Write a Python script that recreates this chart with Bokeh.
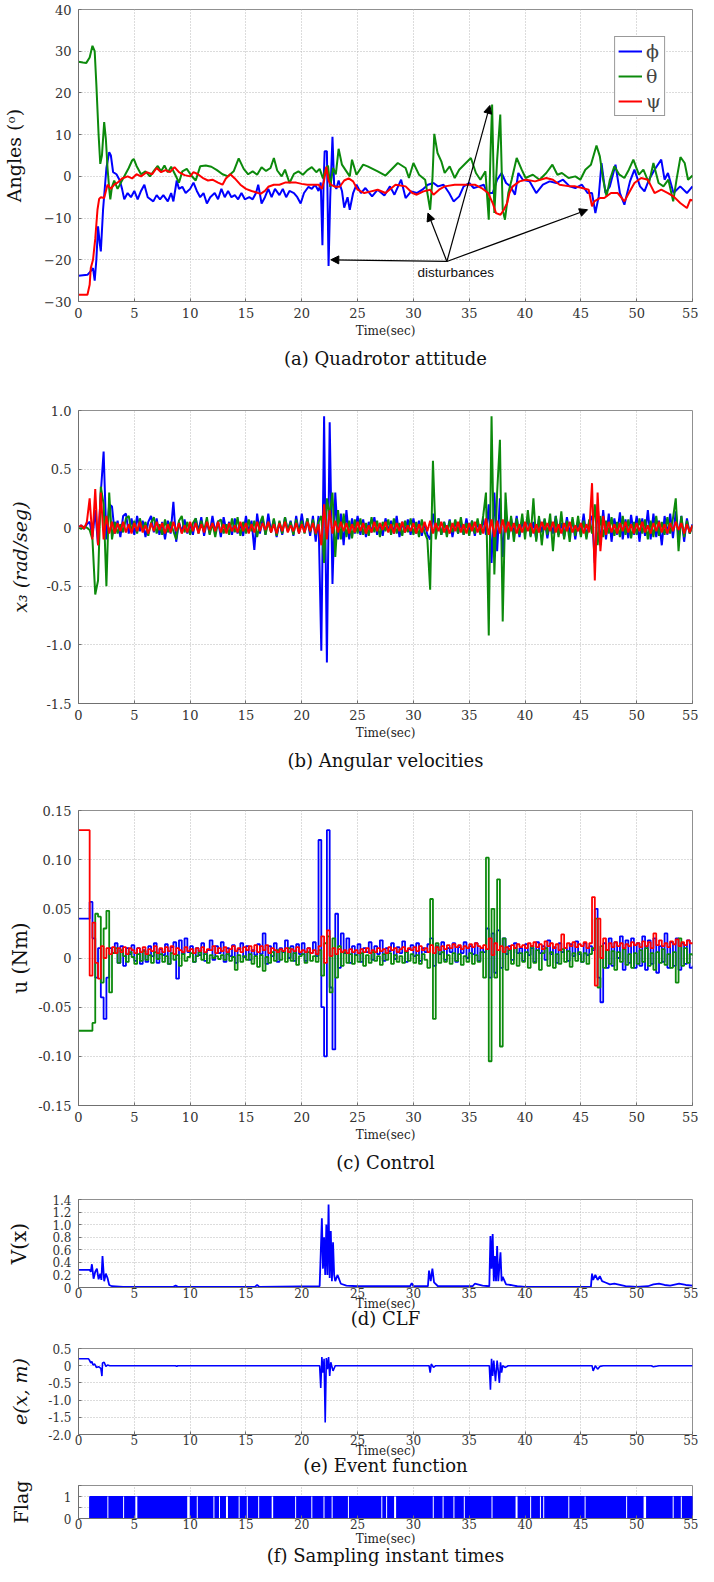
import math
from bokeh.plotting import figure
from bokeh.models import Range1d, FixedTicker, PrintfTickFormatter, Label, Arrow, NormalHead, Title
from bokeh.layouts import column
from bokeh.embed import file_html
from bokeh.resources import INLINE

SERIF = "DejaVu Serif"
BLUE = "#0000ff"
GREEN = "#0c8a0c"
RED = "#ff0000"

x_ticks = [0, 5, 10, 15, 20, 25, 30, 35, 40, 45, 50, 55]
x_limits = (0, 55)

# ---------------- (a) attitude, degrees: (time, value) readings
att_phi = [(0, -23.8), (0.8, -23.6), (1.0, -23), (1.3, -22), (1.45, -25), (1.6, -20), (1.75, -12), (1.9, -16),
           (2.0, -18), (2.2, -8), (2.5, 2), (2.75, 5.8), (2.9, 5), (3.1, 1), (3.4, 0.5), (3.7, -1), (3.9, -3),
           (4.1, -5.5), (4.4, -4), (4.7, -5), (5.0, -3.5), (5.3, -5.5), (5.6, -3.5), (5.9, -2), (6.2, -5),
           (6.7, -6), (7.0, -4.5), (7.3, -5.5), (7.6, -4.5), (8.0, -6), (8.3, -4), (8.5, -6), (8.8, -1),
           (9.0, -3), (9.3, -2.5), (9.6, -4), (10.0, -3), (10.3, -1.5), (10.6, -3.5), (10.9, -5), (11.2, -4),
           (11.5, -6.5), (11.8, -5), (12.2, -4), (12.5, -5.5), (12.8, -3), (13.1, -5), (13.4, -3.5), (13.7, -5),
           (14.0, -4.5), (14.3, -5.5), (14.6, -4), (14.9, -5.5), (15.3, -5), (15.6, -5.5), (15.9, -4), (16.1, -2),
           (16.4, -6.5), (16.7, -5), (17.0, -3), (17.3, -5), (17.6, -3), (18.0, -4.5), (18.3, -3), (18.6, -5),
           (18.9, -3.5), (19.3, -4), (19.6, -5), (19.9, -6.5), (20.2, -4), (20.6, -2.5), (20.9, -3), (21.2, -2),
           (21.5, -3.5), (21.7, -1.5), (21.85, -16.5), (21.95, -2), (22.05, 6), (22.25, 6), (22.4, -21.5),
           (22.55, -5), (22.75, 9.5), (22.9, -2), (23.1, -3), (23.3, -1), (23.6, -3.5), (23.8, -7.5), (24.1, -5),
           (24.3, -8), (24.6, -4), (24.9, -2), (25.3, -4), (25.7, -2.8), (26.3, -4.8), (26.8, -3.2), (27.4, -4.6),
           (27.9, -2.4), (28.3, -4.4), (28.9, -0.8), (29.3, -5.2), (29.8, -3.6), (30.3, -4.0), (30.8, -3.2),
           (31.3, -2.0), (31.8, -1.6), (32.2, -2.4), (32.7, -2.0), (33.2, -4.0), (33.6, -6.0), (34.1, -4.8),
           (34.5, -2.4), (35.0, -1.6), (35.4, -2.8), (35.9, -2.4), (36.3, -2.0), (36.6, -4.0), (37.1, -4.0),
           (37.5, -0.8), (37.9, 0.8), (38.3, -1.6), (38.7, -2.4), (39.1, -4.4), (39.4, 0.8), (39.8, -0.8),
           (40.4, -1.2), (41.0, -4.0), (41.6, -2.0), (42.2, -1.2), (42.8, -1.6), (43.4, -0.8), (44.0, -2.4),
           (44.5, -2.8), (45.1, -2.0), (45.6, -4.0), (46.0, -4.0), (46.3, -8.8), (46.6, -4.8), (46.85, 3.2),
           (47.2, -4.0), (47.6, -2.4), (48.1, 2.8), (48.5, -4.0), (48.9, -6.8), (49.4, -1.2), (49.8, 1.6),
           (50.3, -2.4), (50.7, -3.6), (51.1, -0.8), (51.6, 1.6), (52.2, 4.0), (52.5, -0.8), (52.8, 0.8),
           (53.3, -4.0), (53.9, -2.4), (54.5, -4.0), (55.0, -2.4)]
att_theta = [(0, 27.5), (0.4, 27.3), (0.7, 27.2), (1.0, 28.5), (1.25, 31.3), (1.45, 30.0), (1.6, 22), (1.8, 10),
             (1.95, 3.0), (2.1, 5), (2.3, 13.0), (2.45, 9), (2.6, 2), (2.75, -3), (2.85, -5.5), (3.0, -2.5),
             (3.2, -1), (3.5, -3), (3.8, -1.5), (4.2, 0.5), (4.5, 2), (4.8, 3.8), (4.95, 4.2), (5.2, 2.5),
             (5.6, 0.5), (6.0, 1.2), (6.4, 0), (6.8, 1.5), (7.1, 2.5), (7.4, 1.2), (7.7, 2.6), (8.0, 1),
             (8.3, 2.3), (8.7, 0.2), (9.0, -1.5), (9.3, 1.2), (9.7, 1.8), (10.1, 0.2), (10.5, -1), (10.9, 2.4),
             (11.4, 2.6), (11.9, 2.3), (12.4, 1.5), (12.9, 0.5), (13.4, 0), (13.9, 1.2), (14.35, 4.3), (14.8, 1.8),
             (15.2, 0.5), (15.6, 1.2), (16.0, 0.4), (16.4, 2.2), (16.8, 1.3), (17.2, 2.0), (17.5, 4.4), (17.8, 1.4),
             (18.2, 0), (18.5, 1.6), (18.9, -1.6), (19.3, 0.6), (19.7, 1.2), (20.1, 0.4), (20.5, 1.5), (20.9, 2.2),
             (21.3, 1.0), (21.6, 1.8), (21.9, -0.5), (22.1, 1.5), (22.35, 2.6), (22.55, -2.5), (22.8, 2.0),
             (23.05, 0.5), (23.3, 6.6), (23.6, 2.8), (24.0, 1.2), (24.3, 0), (24.5, 4.0), (24.9, 0.4), (25.5, 2.8),
             (25.9, 2.4), (26.8, 1.2), (27.5, 0.2), (28.6, 3.2), (29.3, 2.0), (29.6, -0.4), (30.0, 3.2),
             (30.5, 0.4), (31.05, -0.8), (31.5, -8.0), (31.7, -0.8), (31.87, 10.2), (32.16, 5.6), (32.5, 3.6),
             (32.8, 0.8), (33.25, 2.4), (33.7, -0.4), (34.1, 1.6), (34.7, 3.2), (35.15, 4.4), (35.6, 0.8),
             (36.0, -0.8), (36.45, 1.2), (36.75, -10.4), (36.9, 5.0), (37.05, 17.2), (37.25, -8.8), (37.5, 4.0),
             (37.78, 14.8), (38.0, -8.0), (38.2, -10.4), (38.5, -4.0), (38.8, -0.8), (39.25, 4.4), (39.7, 1.6),
             (40.05, -0.4), (40.7, 0.4), (41.3, -0.8), (41.9, 0.8), (42.45, 2.8), (42.9, 0.4), (43.3, 0.8),
             (43.9, -0.4), (44.5, 0.0), (44.95, -0.8), (45.4, 1.6), (45.9, 2.8), (46.4, 7.4), (46.7, 4.8),
             (47.0, -0.8), (47.3, -4.8), (47.6, -0.8), (48.0, 2.4), (48.45, 0.4), (48.9, -0.4), (49.3, 1.6),
             (49.7, 4.0), (50.2, 0.4), (50.6, 1.6), (51.1, -1.6), (51.5, 3.2), (51.96, -1.6), (52.4, -2.4),
             (52.84, -0.8), (53.27, -6.0), (53.57, -0.8), (53.92, 4.6), (54.3, 3.2), (54.6, -0.8), (55.0, 0.2)]
att_psi = [(0, -28.4), (0.8, -28.4), (1.0, -26), (1.1, -22), (1.3, -20), (1.5, -15), (1.7, -8), (1.85, -5.4),
           (2.0, -5), (2.3, -5.2), (2.6, -2), (2.9, -3), (3.2, -2), (3.5, -1.5), (3.9, -0.5), (4.4, 0), (4.8, -0.5),
           (5.2, 0.5), (5.6, 0), (6.1, 1), (6.6, 0.5), (7.0, 2), (7.4, 1), (7.8, 1.5), (8.2, 1), (8.6, 2.2),
           (9.0, 1), (9.5, 0.3), (10.0, 0), (10.3, 1), (10.7, 0.5), (11.2, -0.5), (11.6, -1), (12.0, -0.8),
           (12.5, -1.5), (12.9, -2), (13.2, -0.5), (13.6, 0.5), (14.0, -0.5), (14.5, -2), (15.0, -3), (15.5, -3.5),
           (15.9, -3.8), (16.3, -4.2), (16.7, -3.5), (17.0, -2.5), (17.5, -2), (18.0, -2), (18.5, -1.5),
           (19.0, -1.5), (19.5, -1.5), (20.0, -1.8), (20.5, -2), (21.0, -2), (21.5, -2), (21.8, -3), (22.0, -1),
           (22.2, 2.3), (22.4, -1), (22.6, -2), (23.0, -2.5), (23.4, -2.5), (23.8, -1), (24.2, -0.5), (24.6, -1.2),
           (25.0, -3.2), (25.6, -4.0), (26.2, -3.6), (26.8, -3.2), (27.5, -4.0), (28.4, -2.0), (29.3, -2.4),
           (29.9, -4.0), (30.3, -4.4), (30.9, -3.6), (31.5, -3.2), (31.8, -4.4), (32.3, -3.2), (32.8, -2.4),
           (33.7, -2.0), (34.6, -2.0), (35.5, -2.0), (36.1, -2.8), (36.7, -4.0), (37.1, -6.4), (37.4, -8.8),
           (37.8, -9.2), (38.1, -8.0), (38.4, -6.4), (38.6, -4.0), (38.9, -2.4), (39.5, -1.2), (40.1, -0.8),
           (40.9, -1.2), (41.9, -0.4), (42.5, -0.8), (43.1, -2.0), (44.0, -2.4), (44.5, -2.4), (45.1, -2.8),
           (45.7, -3.2), (46.0, -7.2), (46.2, -6.0), (46.7, -5.2), (47.1, -5.2), (47.7, -4.0), (48.3, -4.0),
           (48.9, -6.0), (49.3, -4.0), (49.8, -1.6), (50.4, -0.4), (51.0, -0.8), (51.3, -2.4), (51.6, -4.0),
           (52.2, -3.2), (52.8, -4.0), (53.3, -4.8), (53.9, -6.4), (54.5, -7.6), (54.8, -5.6), (55.0, -5.8)]
att_names = ["ϕ", "θ", "ψ"]
att_yticks = [-30, -20, -10, 0, 10, 20, 30, 40]
dist_text = "disturbances"
dist_text_at = (33.8, -23.0)
dist_from = (33.0, -20.4)
dist_to = [(22.6, -20.0), (31.3, -8.8), (36.85, 17.0), (45.6, -8.0)]

# ---------------- (b) angular velocities, rad/s, one reading every 0.25 s from 0 to 55 s
vel_phi = [0.00, 0.02, -0.01, 0.03, 0.05, -0.08, 0.15, -0.15, 0.30, 0.65, -0.10, 0.20, 0.18, -0.05, 0.06, -0.08, 0.10, 0.12, -0.05, 0.08,
           -0.06, 0.10, -0.03, 0.06, -0.08, 0.05, 0.10, -0.04, 0.08, -0.06, 0.05, -0.10, 0.06, -0.05, 0.22, -0.12, 0.05, -0.04, 0.07, -0.05,
           0.03, -0.06, 0.08, -0.03, 0.09, -0.07, 0.05, -0.05, 0.10, -0.04, 0.06, -0.08, 0.09, -0.03, 0.05, -0.06, 0.08, -0.05, 0.03, -0.07,
           0.10, -0.04, 0.06, -0.19, 0.12, -0.05, 0.08, -0.06, 0.12, -0.04, 0.07, -0.08, 0.05, -0.06, 0.09, -0.03, 0.06, -0.07, 0.10, -0.05,
           0.12, -0.04, 0.08, -0.07, 0.10, -0.12, 0.10, -1.05, 0.95, -1.15, 0.90, -0.48, 0.30, -0.10, 0.12, -0.15, 0.15, -0.10, 0.08, -0.05,
           0.10, -0.06, 0.07, -0.08, 0.05, -0.04, 0.09, -0.06, 0.04, -0.07, 0.08, -0.03, 0.06, -0.05, 0.10, -0.08, 0.05, -0.04, 0.07, -0.06,
           0.08, -0.05, 0.06, -0.07, 0.04, -0.06, -0.10, 0.12, -0.05, 0.08, -0.06, 0.05, -0.04, 0.07, -0.08, 0.06, -0.05, 0.04, -0.06, 0.08,
           -0.04, 0.06, -0.07, 0.05, -0.05, 0.08, -0.06, 0.20, -0.30, 0.30, -0.20, 0.25, -0.25, 0.15, -0.10, 0.08, -0.06, 0.10, -0.08, 0.06,
           -0.05, 0.09, -0.07, 0.05, -0.10, 0.08, -0.04, 0.07, -0.09, 0.06, -0.05, 0.10, -0.06, 0.04, -0.08, 0.09, -0.05, 0.07, -0.10, 0.06,
           -0.06, 0.12, -0.08, 0.05, 0.10, -0.30, 0.20, -0.15, 0.15, -0.10, 0.12, -0.12, 0.08, -0.06, 0.13, -0.10, 0.07, -0.09, 0.11, -0.06,
           0.10, -0.12, 0.08, -0.07, 0.15, -0.10, 0.12, -0.08, 0.06, -0.15, 0.10, -0.06, 0.12, -0.09, 0.14, -0.08, 0.10, -0.12, 0.08, -0.05,
           0.03]
vel_theta = [0.00, -0.01, 0.01, 0.00, -0.02, -0.10, -0.57, -0.45, 0.35, 0.20, -0.50, 0.30, -0.10, 0.05, -0.05, 0.03, -0.04, 0.08, 0.10, -0.03,
             0.06, -0.05, 0.08, -0.02, 0.05, -0.07, 0.04, 0.09, -0.05, 0.03, -0.06, 0.07, -0.04, 0.05, -0.03, -0.10, 0.06, 0.10, -0.04, 0.05,
             -0.06, 0.04, 0.08, -0.05, 0.06, -0.03, 0.09, -0.06, 0.04, -0.08, 0.05, 0.07, -0.05, 0.03, -0.06, 0.08, -0.04, 0.09, -0.07, 0.05,
             -0.05, 0.07, -0.03, 0.06, -0.08, 0.04, 0.10, -0.06, 0.05, -0.04, 0.08, -0.07, 0.06, -0.05, 0.09, -0.03, 0.05, -0.06, 0.07, -0.04,
             0.06, -0.05, 0.08, -0.04, 0.07, -0.06, 0.05, 0.10, -0.30, 0.25, 0.10, 0.30, -0.25, 0.15, -0.10, 0.12, -0.08, 0.06, -0.09, 0.07,
             -0.05, 0.08, -0.06, 0.04, -0.07, 0.09, -0.04, 0.06, -0.08, 0.05, -0.03, 0.07, -0.06, 0.08, -0.05, 0.04, -0.07, 0.06, -0.04, 0.08,
             -0.06, 0.05, -0.08, 0.07, -0.04, -0.10, -0.53, 0.57, -0.10, 0.08, -0.06, 0.05, -0.08, 0.06, -0.04, 0.07, -0.05, 0.09, -0.06, 0.04,
             -0.07, 0.06, -0.05, 0.08, -0.06, 0.10, 0.30, -0.92, 0.95, -0.40, 0.30, 0.75, -0.80, 0.30, -0.10, 0.10, -0.12, 0.08, -0.06, 0.12,
             -0.10, 0.15, -0.08, 0.25, -0.12, 0.10, -0.15, 0.08, -0.06, 0.12, -0.20, 0.10, -0.08, 0.14, -0.10, 0.06, -0.12, 0.09, -0.07, 0.10,
             -0.08, 0.06, -0.10, 0.07, -0.05, 0.20, -0.15, 0.10, -0.08, 0.06, -0.05, 0.09, -0.07, 0.05, -0.08, 0.10, -0.06, 0.07, -0.09, 0.05,
             -0.06, 0.08, -0.05, 0.07, -0.10, 0.06, -0.08, 0.10, -0.07, 0.05, -0.06, 0.09, -0.05, 0.08, 0.25, -0.20, 0.10, -0.08, 0.06, -0.05,
             0.02]
vel_psi = [0.00, 0.02, -0.01, 0.05, 0.25, -0.10, 0.33, -0.15, 0.30, -0.10, 0.10, -0.05, 0.05, -0.05, 0.04, -0.03, 0.05, -0.04, 0.03, -0.05,
           0.04, -0.03, 0.05, -0.04, 0.02, -0.05, 0.04, -0.03, 0.05, -0.02, 0.04, -0.05, 0.03, -0.04, 0.05, -0.03, 0.04, -0.05, 0.02, -0.04,
           0.05, -0.03, 0.04, -0.05, 0.03, -0.04, 0.05, -0.02, 0.04, -0.03, 0.05, -0.04, 0.03, -0.05, 0.04, -0.03, 0.02, -0.04, 0.05, -0.03,
           0.04, -0.05, 0.03, -0.04, 0.05, -0.03, 0.04, -0.02, 0.05, -0.04, 0.03, -0.05, 0.04, -0.03, 0.05, -0.04, 0.02, -0.03, 0.04, -0.05,
           0.03, -0.04, 0.05, -0.03, 0.04, -0.05, 0.03, -0.15, 0.20, -0.10, 0.15, -0.05, 0.06, -0.04, 0.05, -0.03, 0.04, -0.05, 0.03, -0.04,
           0.05, -0.03, 0.04, -0.05, 0.02, -0.04, 0.05, -0.03, 0.04, -0.02, 0.05, -0.04, 0.03, -0.05, 0.04, -0.03, 0.05, -0.04, 0.02, -0.03,
           0.04, -0.05, 0.03, -0.04, 0.05, -0.03, 0.06, -0.05, 0.04, -0.03, 0.05, -0.04, 0.02, -0.05, 0.04, -0.03, 0.05, -0.04, 0.03, -0.05,
           0.04, -0.03, 0.05, -0.04, 0.03, -0.05, 0.08, -0.06, 0.07, -0.08, 0.06, -0.05, 0.07, -0.04, 0.05, -0.03, 0.04, -0.05, 0.03, -0.04,
           0.05, -0.03, 0.04, -0.05, 0.03, -0.04, 0.05, -0.02, 0.04, -0.03, 0.05, -0.04, 0.03, -0.05, 0.04, -0.03, 0.05, -0.04, 0.02, -0.03,
           0.04, -0.05, 0.03, -0.04, 0.38, -0.45, 0.30, -0.20, 0.10, -0.06, 0.05, -0.04, 0.03, -0.05, 0.04, -0.03, 0.05, -0.04, 0.03, -0.05,
           0.04, -0.03, 0.05, -0.04, 0.02, -0.05, 0.04, -0.03, 0.05, -0.04, 0.03, -0.05, 0.04, -0.03, 0.05, -0.02, 0.04, -0.05, 0.03, -0.04,
           0.02]
vel_yticks = [-1.5, -1.0, -0.5, 0, 0.5, 1.0]

# ---------------- (c) control torques, Nm, held values every 0.25 s from 0 to 55 s
u_phi = [0.040, 0.040, 0.040, 0.040, 0.057, 0.020, -0.020, 0.010, -0.040, -0.062, -0.020, 0.010, 0.005, 0.015, -0.005, 0.012, -0.008, 0.010, 0.004, 0.013,
         -0.003, 0.010, -0.006, 0.008, -0.004, 0.012, 0.002, 0.015, -0.005, 0.009, 0.003, 0.014, -0.006, 0.011, 0.016, -0.021, 0.018, 0.004, 0.020, 0.006,
         0.012, -0.004, 0.010, 0.003, 0.015, -0.003, 0.008, 0.018, -0.002, 0.012, 0.005, 0.016, -0.004, 0.010, 0.002, 0.013, -0.005, 0.009, 0.015, 0.001,
         0.012, -0.002, 0.008, 0.003, 0.014, 0.004, 0.025, -0.006, 0.012, 0.002, 0.015, -0.004, 0.010, 0.006, 0.018, 0.000, 0.012, -0.003, 0.014, 0.004,
         0.015, -0.003, 0.010, 0.005, 0.016, 0.002, 0.120, -0.050, -0.100, 0.130, -0.030, -0.093, 0.045, -0.010, 0.025, 0.005, 0.020, -0.005, 0.012, 0.003,
         0.014, -0.004, 0.010, 0.006, 0.016, -0.002, 0.012, 0.004, 0.018, -0.003, 0.010, 0.007, 0.015, -0.001, 0.011, 0.005, 0.017, -0.004, 0.009, 0.013,
         0.002, 0.015, -0.003, 0.010, 0.006, 0.014, 0.020, -0.008, 0.012, 0.004, 0.016, -0.002, 0.010, 0.006, 0.015, -0.004, 0.011, 0.005, 0.016, 0.000,
         0.012, 0.004, 0.015, -0.003, 0.010, 0.006, 0.030, -0.020, 0.025, -0.015, 0.028, -0.010, 0.020, 0.004, 0.012, -0.002, 0.015, 0.005, 0.010, -0.003,
         0.014, 0.003, 0.010, -0.004, 0.016, 0.005, 0.012, -0.002, 0.018, 0.004, 0.011, -0.005, 0.015, 0.006, 0.010, -0.003, 0.014, 0.002, 0.017, 0.004,
         -0.004, 0.015, 0.003, 0.012, 0.008, 0.050, -0.020, -0.045, 0.015, -0.010, 0.020, -0.008, 0.016, 0.000, 0.022, -0.012, 0.018, -0.005, 0.020, -0.010,
         0.015, -0.008, 0.022, -0.012, 0.018, -0.006, 0.020, -0.015, 0.012, -0.004, 0.025, -0.010, 0.016, -0.008, 0.020, -0.012, 0.015, -0.006, 0.018, -0.010,
         -0.008]
u_theta = [-0.074, -0.074, -0.074, -0.074, -0.074, -0.066, 0.045, 0.042, -0.025, 0.030, 0.048, -0.035, 0.005, 0.010, -0.005, 0.008, 0.002, -0.004, 0.006, 0.001,
           -0.006, 0.004, -0.003, 0.007, -0.002, 0.003, -0.005, 0.006, -0.001, 0.004, -0.004, 0.002, -0.006, 0.005, -0.002, 0.003, -0.008, 0.004, -0.003, 0.001,
           0.005, -0.004, 0.002, 0.006, -0.002, 0.004, -0.005, 0.003, 0.000, 0.002, -0.001, 0.003, -0.002, 0.004, -0.003, 0.001, -0.012, 0.003, -0.004, 0.002,
           -0.002, 0.004, -0.006, 0.002, -0.009, 0.003, -0.013, 0.001, -0.005, 0.006, -0.003, 0.008, -0.002, 0.007, -0.004, 0.010, -0.003, 0.005, -0.007, 0.002,
           0.004, -0.005, 0.006, -0.003, 0.002, -0.004, 0.008, -0.018, 0.015, 0.022, -0.035, 0.020, -0.020, 0.012, -0.008, 0.006, -0.005, 0.004, -0.006, 0.003,
           -0.004, 0.005, -0.008, 0.003, -0.005, 0.006, -0.003, 0.002, -0.007, 0.004, -0.002, 0.005, -0.006, 0.003, -0.004, 0.002, -0.005, 0.006, -0.003, 0.004,
           -0.005, 0.003, -0.006, 0.004, -0.002, -0.010, 0.060, -0.062, 0.015, -0.005, 0.006, -0.004, 0.003, -0.006, 0.005, -0.003, 0.004, -0.007, 0.002, -0.004,
           0.005, -0.006, 0.003, -0.004, 0.006, -0.020, 0.102, -0.105, 0.050, -0.020, 0.080, -0.090, 0.020, -0.012, 0.008, -0.006, 0.010, -0.008, 0.005, -0.004,
           0.006, -0.010, 0.012, -0.005, 0.008, -0.012, 0.005, 0.010, -0.008, 0.006, -0.010, 0.004, -0.006, 0.009, -0.004, 0.007, -0.009, 0.005, -0.003, 0.006,
           -0.004, 0.005, -0.006, 0.004, 0.010, 0.040, -0.030, 0.012, -0.010, 0.008, -0.006, 0.007, -0.012, 0.006, -0.004, 0.009, -0.007, 0.004, -0.010, 0.005,
           -0.006, 0.008, -0.004, 0.010, -0.008, 0.005, -0.012, 0.006, -0.005, 0.009, -0.007, 0.004, -0.010, 0.006, -0.025, 0.020, -0.008, 0.010, -0.005, 0.004,
           0.002]
u_psi = [0.130, 0.130, 0.130, 0.130, -0.018, 0.036, -0.005, -0.021, 0.012, 0.000, 0.010, 0.004, 0.011, 0.005, 0.010, 0.006, 0.011, 0.004, 0.010, 0.008,
         0.005, 0.010, 0.006, 0.011, 0.004, 0.009, 0.007, 0.012, 0.005, 0.010, 0.006, 0.011, 0.007, 0.012, 0.004, 0.010, 0.008, 0.006, 0.011, 0.007,
         0.009, 0.005, 0.010, 0.007, 0.011, 0.006, 0.009, 0.008, 0.012, 0.005, 0.010, 0.007, 0.011, 0.006, 0.009, 0.012, 0.007, 0.010, 0.006, 0.011,
         0.008, 0.012, 0.007, 0.013, 0.006, 0.012, 0.008, 0.013, 0.005, 0.010, 0.008, 0.006, 0.009, 0.007, 0.010, 0.006, 0.009, 0.007, 0.011, 0.006,
         0.008, 0.006, 0.010, 0.005, 0.008, 0.004, 0.012, 0.022, -0.005, 0.028, 0.002, 0.010, 0.004, 0.009, 0.006, 0.008, 0.005, 0.009, 0.006, 0.008,
         0.005, 0.009, 0.006, 0.010, 0.005, 0.008, 0.006, 0.010, 0.007, 0.009, 0.005, 0.011, 0.008, 0.010, 0.006, 0.009, 0.011, 0.007, 0.010, 0.008,
         0.011, 0.007, 0.012, 0.008, 0.010, 0.006, 0.013, 0.005, 0.011, 0.008, 0.012, 0.009, 0.013, 0.010, 0.014, 0.011, 0.013, 0.009, 0.012, 0.010,
         0.014, 0.011, 0.015, 0.012, 0.010, 0.013, 0.009, 0.020, 0.003, 0.015, 0.008, 0.012, 0.006, 0.011, 0.009, 0.013, 0.010, 0.014, 0.011, 0.013,
         0.010, 0.015, 0.012, 0.016, 0.011, 0.014, 0.009, 0.017, 0.012, 0.015, 0.010, 0.014, 0.008, 0.024, 0.010, 0.015, 0.012, 0.016, 0.011, 0.014,
         0.012, 0.016, 0.010, 0.015, 0.062, -0.028, 0.040, 0.000, 0.020, 0.008, 0.015, 0.011, 0.016, 0.012, 0.015, 0.010, 0.014, 0.012, 0.016, 0.013,
         0.015, 0.011, 0.017, 0.012, 0.016, 0.010, 0.025, 0.013, 0.018, 0.012, 0.015, 0.011, 0.017, 0.014, 0.019, 0.012, 0.016, 0.013, 0.018, 0.015,
         0.016]
u_yticks = [-0.15, -0.10, -0.05, 0, 0.05, 0.10, 0.15]
sample_step = 0.25

# ---------------- (d) CLF V(x)
clf = [(0, 0.28), (1.0, 0.28), (1.1, 0.25), (1.2, 0.37), (1.35, 0.14), (1.5, 0.25), (1.65, 0.3), (1.8, 0.13),
       (1.95, 0.22), (2.05, 0.12), (2.15, 0.5), (2.3, 0.1), (2.45, 0.22), (2.6, 0.15), (2.75, 0.04), (3.0, 0.02),
       (4.0, 0.01), (6.0, 0.01), (8.5, 0.01), (8.7, 0.03), (8.9, 0.01), (11.0, 0.01), (15.8, 0.01), (16.0, 0.04),
       (16.2, 0.01), (21.6, 0.02), (21.7, 0.55), (21.8, 1.1), (21.9, 0.3), (22.0, 0.8), (22.1, 0.2), (22.2, 1.0),
       (22.3, 0.2), (22.4, 1.32), (22.5, 0.15), (22.6, 0.9), (22.7, 0.1), (22.8, 0.72), (22.9, 0.2), (23.0, 0.1),
       (23.2, 0.2), (23.5, 0.06), (24.0, 0.03), (25.0, 0.02), (29.7, 0.02), (29.85, 0.07), (30.0, 0.02),
       (31.3, 0.02), (31.4, 0.27), (31.55, 0.1), (31.7, 0.3), (31.85, 0.08), (32.2, 0.02), (35.3, 0.02),
       (35.5, 0.06), (36.2, 0.03), (36.8, 0.02), (36.9, 0.82), (37.0, 0.3), (37.1, 0.85), (37.2, 0.1), (37.3, 0.5),
       (37.4, 0.1), (37.5, 0.66), (37.6, 0.1), (37.8, 0.56), (37.9, 0.1), (38.0, 0.17), (38.3, 0.05), (38.7, 0.04),
       (39.0, 0.03), (39.3, 0.02), (40.0, 0.01), (45.9, 0.01), (46.0, 0.22), (46.1, 0.12), (46.3, 0.2), (46.5, 0.12),
       (46.7, 0.18), (46.9, 0.1), (47.2, 0.08), (47.6, 0.05), (48.0, 0.06), (48.5, 0.04), (49.0, 0.02), (50.0, 0.01),
       (51.0, 0.02), (51.5, 0.05), (52.0, 0.06), (52.5, 0.04), (53.0, 0.03), (53.8, 0.06), (54.4, 0.04), (55.0, 0.03)]
clf_yticks = [0, 0.2, 0.4, 0.6, 0.8, 1.0, 1.2, 1.4]

# ---------------- (e) event function
event = [(0, 0.2), (0.9, 0.2), (1.0, 0.15), (1.1, 0.08), (1.2, 0.12), (1.3, 0.02), (1.45, 0.05), (1.6, -0.05),
         (1.8, -0.03), (2.0, -0.08), (2.1, -0.3), (2.15, 0.08), (2.3, 0.1), (2.45, -0.02), (2.6, 0.02), (2.8, 0.0),
         (8.7, 0.0), (8.8, -0.02), (8.9, 0.0), (21.6, 0.0), (21.7, -0.65), (21.8, 0.25), (21.9, -0.2), (22.0, 0.2),
         (22.1, -1.65), (22.2, 0.22), (22.3, -0.1), (22.4, 0.25), (22.5, -0.3), (22.6, 0.1), (22.8, -0.15),
         (23.0, 0.0), (31.4, 0.0), (31.5, -0.2), (31.6, 0.05), (31.8, -0.05), (32.0, 0.0), (36.8, 0.0), (36.9, -0.7),
         (37.0, 0.2), (37.1, -0.3), (37.2, 0.15), (37.35, -0.45), (37.5, 0.15), (37.6, -0.15), (37.7, -0.5),
         (37.8, 0.1), (37.9, -0.2), (38.0, 0.0), (38.2, -0.05), (38.5, 0.0), (46.0, 0.0), (46.1, -0.15), (46.3, 0.0),
         (46.5, -0.1), (46.7, -0.02), (47.0, 0.0), (51.3, 0.0), (51.5, -0.03), (52.0, 0.0), (55.0, 0.0)]
event_yticks = [-2.0, -1.5, -1.0, -0.5, 0, 0.5]

# ---------------- (f) sampling flag
flag_on_start = [1.0]
flag_on_stop = [55.0]
flag_high = [1.0]
flag_low = [0.0]
flag_idle_t = [0.0, 1.0]
flag_idle_v = [0.0, 0.0]
flag_gaps = [2.63, 4.04, 5.18, 9.85, 10.64, 12.13, 12.63, 13.3, 14.39, 15.12, 16.14, 17.37, 19.45, 20.9, 21.99,
             22.72, 24.18, 27.17, 27.6, 28.36, 31.78, 32.66, 33.63, 34.56, 37.04, 39.24, 40.5, 41.38, 41.67, 43.92,
             45.38, 49.1, 50.73, 53.27, 54.0]
flag_gap_w = [1, 1, 2, 2.5, 1, 1, 1, 2, 1, 1, 1, 1.5, 1, 1, 1,
              1, 1, 1, 1, 2, 1, 1, 1, 1, 1, 2, 1, 1, 1, 1,
              1, 1, 2.5, 1, 1]
flag_yticks = [0, 0.5, 1, 1.5]


def base_fig(h, top, bottom, ylim, yticks, fs, xstand, ylabel, ystand, ystyle="normal", ysize=19):
    p = figure(width=698, height=h, x_range=Range1d(*x_limits), y_range=Range1d(*ylim),
               output_backend="svg", toolbar_location=None,
               min_border_left=68, min_border_right=6, min_border_top=top, min_border_bottom=bottom)
    p.xaxis.ticker = FixedTicker(ticks=x_ticks)
    p.yaxis.ticker = FixedTicker(ticks=yticks)
    for ax in (p.xaxis[0], p.yaxis[0]):
        ax.axis_line_color = "#707070"
        ax.major_tick_line_color = "#707070"
        ax.major_tick_in = 3
        ax.major_tick_out = 0
        ax.minor_tick_line_color = None
        ax.major_label_text_font = SERIF
        ax.major_label_text_font_size = f"{fs}px"
        ax.major_label_text_color = "#333333"
    p.yaxis.major_label_standoff = 7
    p.xaxis.major_label_standoff = xstand
    p.yaxis.axis_label = ylabel
    p.yaxis.axis_label_standoff = ystand
    p.yaxis.axis_label_text_font = SERIF
    p.yaxis.axis_label_text_font_size = f"{ysize}px"
    p.yaxis.axis_label_text_font_style = ystyle
    p.yaxis.axis_label_text_color = "#111111"
    p.grid.grid_line_color = "#b8b8b8"
    p.grid.grid_line_dash = "1 2"
    p.outline_line_color = "#909090"
    return p


def add_captions(p, caption, s_time, s_cap):
    p.add_layout(Title(text="Time(sec)", align="center", vertical_align="top", standoff=s_time,
                       text_font=SERIF, text_font_size="12px", text_font_style="normal",
                       text_color="#222222"), "below")
    p.add_layout(Title(text=caption, align="center", vertical_align="top", standoff=s_cap,
                       text_font=SERIF, text_font_size="18px", text_font_style="normal",
                       text_color="#111111"), "below")


def unzip(pts):
    return [a for a, _ in pts], [b for _, b in pts]


# ---- (a)
ya = (-30, 40)
pa = base_fig(399, 9, 98, ya, att_yticks, 13, 6, "Angles (ᵒ)", 16)
for pts, col, name in zip((att_phi, att_theta, att_psi), (BLUE, GREEN, RED), att_names):
    tx, vy = unzip(pts)
    pa.line(tx, vy, line_color=col, line_width=2, legend_label=name)
lg = pa.legend[0]
lg.location = "top_right"
lg.margin = 27
lg.border_line_color = "#333333"
lg.label_text_font = SERIF
lg.label_text_font_size = "19px"
lg.glyph_width = 24
lg.glyph_height = 20
lg.label_height = 20
lg.label_width = 12
lg.spacing = 3
lg.padding = 3
lg.label_standoff = 4
pa.add_layout(Label(x=dist_text_at[0], y=dist_text_at[1], text=dist_text, text_align="center",
                    text_baseline="middle", text_font="Liberation Sans", text_font_size="13.5px",
                    text_color="#111111"))
for xe, ye in dist_to:
    pa.add_layout(Arrow(end=NormalHead(size=8, fill_color="black", line_color="black", line_width=1),
                        x_start=dist_from[0], y_start=dist_from[1], x_end=xe, y_end=ye,
                        line_color="black", line_width=1.2))
add_captions(pa, "(a) Quadrotor attitude", 6, 10.5)

# ---- (b)
yb = (-1.5, 1.0)
pb = base_fig(401, 11, 97, yb, vel_yticks, 13, 6, "x₃ (rad/seg)", 12, ystyle="italic")
pb.yaxis.formatter = PrintfTickFormatter(format="%.1f")
pb.yaxis.major_label_overrides = {0: "0"}
tb = [i * sample_step for i in range(len(vel_phi))]
pb.line(tb, vel_phi, line_color=BLUE, line_width=2)
pb.line(tb, vel_theta, line_color=GREEN, line_width=2)
pb.line(tb, vel_psi, line_color=RED, line_width=2)
add_captions(pb, "(b) Angular velocities", 6, 10.5)

# ---- (c)
yc = (-0.15, 0.15)
pc = base_fig(392, 10, 87, yc, u_yticks, 13, 6, "u (Nm)", 3, ysize=20)
pc.yaxis.formatter = PrintfTickFormatter(format="%.2f")
pc.yaxis.major_label_overrides = {0: "0"}
tc = [i * sample_step for i in range(len(u_phi))]
pc.step(tc, u_phi, line_color=BLUE, line_width=1.8, mode="after")
pc.step(tc, u_theta, line_color=GREEN, line_width=1.8, mode="after")
pc.step(tc, u_psi, line_color=RED, line_width=1.8, mode="after")
add_captions(pc, "(c) Control", 6, 10.5)

# ---- (d)
yd = (0, 1.4)
pd_ = base_fig(148, 7, 53, yd, clf_yticks, 12, 0, "V(x)", 18, ysize=20)
pd_.yaxis.formatter = PrintfTickFormatter(format="%.1f")
pd_.yaxis.major_label_overrides = {0: "0"}
tx, vy = unzip(clf)
pd_.line(tx, vy, line_color=BLUE, line_width=1.8)
add_captions(pd_, "(d) CLF", -8, -0.5)

# ---- (e)
ye_ = (-2.0, 0.5)
pe = base_fig(138, 8, 41, ye_, event_yticks, 12, 0, "e(x, m)", 14, ystyle="italic")
pe.yaxis.formatter = PrintfTickFormatter(format="%.1f")
pe.yaxis.major_label_overrides = {0: "0"}
tx, vy = unzip(event)
pe.line(tx, vy, line_color=BLUE, line_width=1.6)
add_captions(pe, "(e) Event function", -8, -0.5)

# ---- (f)
yf = (0, 1.5)
pf = base_fig(88, 7, 48, yf, flag_yticks, 12, 0, "Flag", 29)
pf.yaxis.major_label_overrides = {0.5: "", 1.5: ""}
pf.line(flag_idle_t, flag_idle_v, line_color="#6f6fff", line_width=1)
pf.quad(left=flag_on_start, right=flag_on_stop, bottom=flag_low, top=flag_high,
        fill_color=BLUE, line_color=BLUE, line_width=1)
pf.segment(x0=flag_gaps, y0=[flag_low[0]] * len(flag_gaps), x1=flag_gaps, y1=[flag_high[0]] * len(flag_gaps),
           line_color="white", line_width=flag_gap_w)
add_captions(pf, "(f) Sampling instant times", 0, -5.5)

layout = column(pa, pb, pc, pd_, pe, pf, spacing=0)
open("out.html", "w").write(file_html(layout, INLINE))
